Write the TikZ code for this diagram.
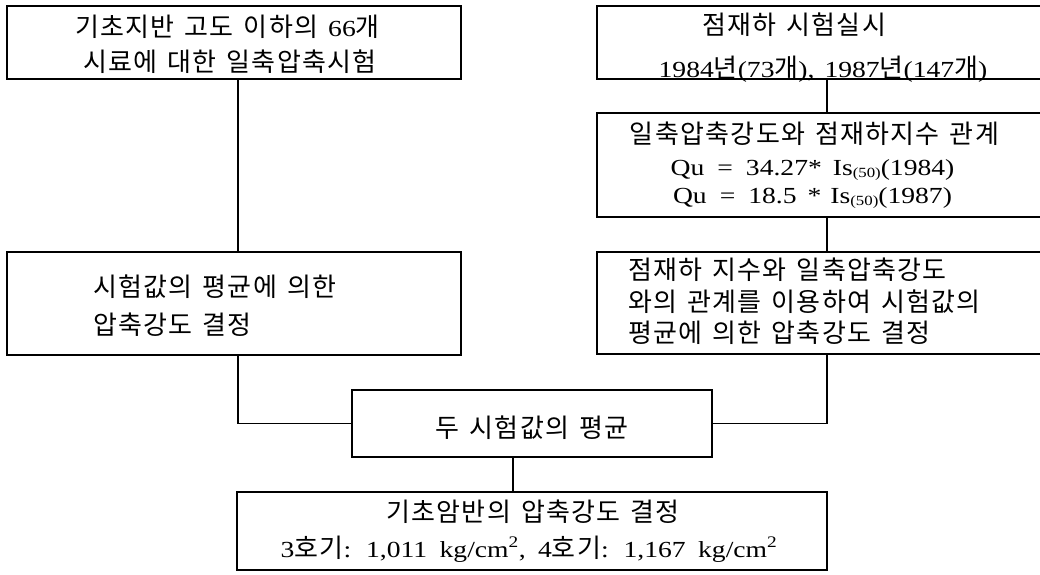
\documentclass[tikz,border=0pt]{standalone}
\usepackage{fontspec}
\setmainfont{Liberation Serif}[FakeStretch=1.2]
\newfontfamily\kr{Noto Sans CJK KR}[Scale=1.13,LetterSpace=5]
\XeTeXinterchartokenstate=1
\newXeTeXintercharclass\KRclass
\newcount\hgcnt
\hgcnt="AC00
\loop
  \XeTeXcharclass\hgcnt=\KRclass
  \advance\hgcnt by 1
\ifnum\hgcnt<"D7A4 \repeat
\XeTeXinterchartoks 0 \KRclass = {\begingroup\kr}
\XeTeXinterchartoks 4095 \KRclass = {\begingroup\kr}
\XeTeXinterchartoks \KRclass 0 = {\endgroup}
\XeTeXinterchartoks \KRclass 4095 = {\endgroup}
\newcommand{\subfifty}{\raisebox{-2pt}{\fontsize{14}{14}\selectfont (50)}}
\newcommand{\txtfont}{\fontsize{23}{27}\selectfont}
\newcommand{\widesp}{\spaceskip=10pt\relax}
\newcommand{\widersp}{\spaceskip=12.5pt\relax}
\tikzset{
  box/.style={draw, line width=2.8pt, inner sep=0pt},
  conn/.style={line width=1.1pt},
  txt/.style={inner sep=0pt, anchor=base, font=\txtfont, execute at begin node=\widesp},
  txtl/.style={txt, anchor=base west},
}
\begin{document}
\begin{tikzpicture}[x=1pt,y=-1pt]
\useasboundingbox (0,0) rectangle (1040,574);
\clip (0,0) rectangle (1040,574);
% boxes
\node[box, minimum width=454pt, minimum height=73pt] (A) at (234,42.5) {};
\node[box, minimum width=448pt, minimum height=73pt] (B) at (821,42.5) {};
\node[box, minimum width=448pt, minimum height=104pt] (D) at (821,165) {};
\node[box, minimum width=448pt, minimum height=102pt] (E) at (821,303) {};
\node[box, minimum width=454pt, minimum height=103pt] (C) at (234,303.5) {};
\node[box, minimum width=360pt, minimum height=67pt] (F) at (532,423.5) {};
\node[box, minimum width=590pt, minimum height=78pt] (G) at (532,531) {};
% connector columns
\coordinate (xl) at (238,0);
\coordinate (xr) at (827,0);
\coordinate (xm) at (513,0);
\draw[conn] (A.south -| xl) -- (C.north -| xl);
\draw[conn] (B.south -| xr) -- (D.north -| xr);
\draw[conn] (D.south -| xr) -- (E.north -| xr);
\draw[conn] (C.south -| xl) |- (F.west);
\draw[conn] (E.south -| xr) |- (F.east);
\draw[conn] (F.south -| xm) -- (G.north -| xm);
% texts
\node[txt] (a1) at (227.5,36) {기초지반 고도 이하의 66개};
\node[txt] (a2) at (230,71) {시료에 대한 일축압축시험};
\node[txt] (b1) at (794,34) {점재하 시험실시};
\node[txt] (b2) at (823,77) {1984년(73개), 1987년(147개)};
\node[txt] (d1) at (814.5,143) {일축압축강도와 점재하지수 관계};
\node[txt] (d2) at (812.5,175) {Qu\hspace{13pt}=\hspace{13pt}34.27*\hspace{11pt}Is\subfifty(1984)};
\node[txt] (d3) at (812.5,203) {Qu\hspace{13pt}=\hspace{13pt}18.5\hspace{11pt}*\hspace{9pt}Is\subfifty(1987)};
\node[txtl] (e1) at (628,279) {점재하 지수와 일축압축강도};
\node[txtl] (e2) at (628,311) {와의 관계를 이용하여 시험값의};
\node[txtl] (e3) at (628,342) {평균에 의한 압축강도 결정};
\node[txtl] (c1) at (93,296) {시험값의 평균에 의한};
\node[txtl] (c2) at (93,334) {압축강도 결정};
\node[txt] (f1) at (532,437) {두 시험값의 평균};
\node[txt] (g1) at (533,521) {기초암반의 압축강도 결정};
\node[txt, execute at begin node=\widersp] (g2) at (529,557) {3호기: 1,011 kg/cm\textsuperscript{2}, 4호기: 1,167 kg/cm\textsuperscript{2}};
\end{tikzpicture}
\end{document}
